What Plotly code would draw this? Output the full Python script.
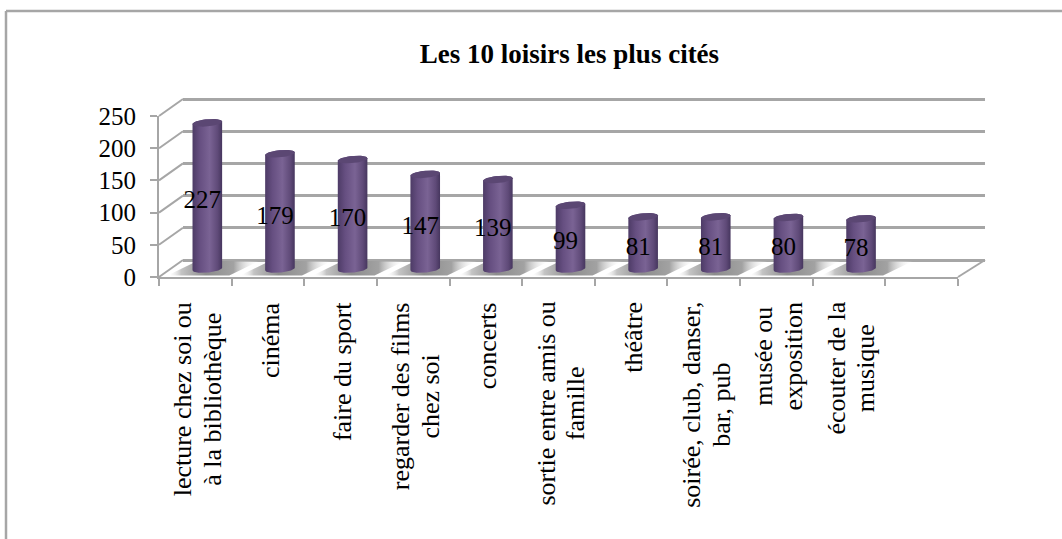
import math
import plotly.graph_objects as go

TITLE = "Les 10 loisirs les plus cités"
categories = [
    "lecture chez soi ou<br>à la bibliothèque",
    "cinéma",
    "faire du sport",
    "regarder des films<br>chez soi",
    "concerts",
    "sortie entre amis ou<br>famille",
    "théâtre",
    "soirée, club, danser,<br>bar, pub",
    "musée ou<br>exposition",
    "écouter de la<br>musique",
]
values = [227, 179, 170, 147, 139, 99, 81, 81, 80, 78]
y_ticks = [0, 50, 100, 150, 200, 250]

W, H = 1062, 539
FONT = "Liberation Serif"
GREY = "#a6a6a6"
SLOTS = 11  # the last slot of the Excel axis is empty

# pixel geometry of the fake 3D box
FRONT_X = (159, 958)
FRONT_Y = (116, 277)
BACK_X = (183, 985)
BACK_ZERO = 260
PX_PER_VAL = (FRONT_Y[1] - FRONT_Y[0]) / 250
PX_PER_SLOT = (FRONT_X[1] - FRONT_X[0]) / SLOTS
MID_LOW, MID_HIGH = -20, 260


def dom_x(a, b):
    return [a / W, b / W]


def dom_y(top, bottom):
    return [1 - bottom / H, 1 - top / H]


def mid_y_dom(zero_px):
    return dom_y(zero_px - MID_HIGH * PX_PER_VAL, zero_px - MID_LOW * PX_PER_VAL)


def ellipse(cx, cy, t0, t1, n=30):
    # slightly tilted ellipse, like the Excel perspective
    a = 14.8 / PX_PER_SLOT
    b = 3.6 / PX_PER_VAL
    tilt = 1.3 / PX_PER_VAL
    xs, ys = [], []
    for k in range(n + 1):
        t = t0 + (t1 - t0) * k / n
        xs.append(cx + a * math.cos(t))
        ys.append(cy + b * math.sin(t) + tilt * math.cos(t))
    return xs, ys


fig = go.Figure()

# empty traces so the front and back axes exist
fig.add_trace(go.Scatter(x=[], y=[], xaxis="x", yaxis="y", showlegend=False))
fig.add_trace(go.Scatter(x=[], y=[], xaxis="x2", yaxis="y2", showlegend=False))

# floor shadows
for i in range(len(values)):
    cx = i + 0.5
    lo, hi = -6.5 / PX_PER_VAL, 8.0 / PX_PER_VAL
    sx = [cx - 40 / PX_PER_SLOT, cx + 22 / PX_PER_SLOT, cx + 52 / PX_PER_SLOT, cx - 10 / PX_PER_SLOT]
    sy = [lo, lo, hi, hi]
    fig.add_trace(go.Scatter(
        x=sx + sx[:1], y=sy + sy[:1], xaxis="x3", yaxis="y3",
        mode="lines", line=dict(width=0), fill="toself",
        fillgradient=dict(type="horizontal", colorscale=[
            [0, "rgba(255,255,255,0)"], [0.15, "#c4c4c4"], [0.42, "#8c8c8c"],
            [0.72, "#a2a2a2"], [1, "rgba(255,255,255,0)"],
        ]),
        hoverinfo="skip", showlegend=False,
    ))

# cylinders
for i, v in enumerate(values):
    cx = i + 0.5
    bx, by = ellipse(cx, 0, math.pi, 2 * math.pi)
    tx, ty = ellipse(cx, v, 0, math.pi)
    fig.add_trace(go.Scatter(
        x=bx + tx + bx[:1], y=by + ty + by[:1], xaxis="x3", yaxis="y3",
        mode="lines", line=dict(width=0), fill="toself",
        fillgradient=dict(type="horizontal", colorscale=[
            [0, "#4d3b66"], [0.25, "#664f81"], [0.58, "#7a6394"], [0.85, "#5f4a78"], [1, "#46365e"],
        ]),
        name=str(v), showlegend=False,
    ))
    ex, ey = ellipse(cx, v, 0, 2 * math.pi, 50)
    fig.add_trace(go.Scatter(
        x=ex, y=ey, xaxis="x3", yaxis="y3",
        mode="lines", line=dict(width=0), fill="toself", fillcolor="#5b4773",
        hoverinfo="skip", showlegend=False,
    ))

# value labels
fig.add_trace(go.Scatter(
    x=[i + 0.5 for i in range(len(values))],
    y=[v / 2 for v in values],
    text=[str(v) for v in values],
    xaxis="x4", yaxis="y4",
    mode="text", textposition="middle center",
    textfont=dict(family=FONT, size=25, color="#000000"),
    cliponaxis=False, hoverinfo="skip", showlegend=False,
))

# box edges and chart frame, in page pixels
shapes = []


def page_line(x0, y0, x1, y1, width=2):
    shapes.append(dict(
        type="line", xref="paper", yref="paper",
        x0=x0 / W, y0=1 - y0 / H, x1=x1 / W, y1=1 - y1 / H,
        line=dict(color=GREY, width=width),
    ))


for t in y_ticks:
    yf = FRONT_Y[1] - t * PX_PER_VAL
    yb = BACK_ZERO - t * PX_PER_VAL
    page_line(FRONT_X[0], yf, BACK_X[0], yb)
page_line(FRONT_X[1], FRONT_Y[1], BACK_X[1], BACK_ZERO)
page_line(6, 539, 6, 11, 2.5)
page_line(6, 11, 1062, 11, 2.5)


# line spacing follows the annotation font (23 -> 30 px), the glyphs follow the span
def big(c):
    return "<br>".join(f"<span style='font-size:26px'>{p}</span>" for p in c.split("<br>"))


annotations = [
    dict(
        text=big(c), x=i + 0.5, xref="x", xshift=2, y=1 - 300 / H, yref="paper",
        xanchor="center", yanchor="top", textangle=-90, align="center",
        showarrow=False, font=dict(family=FONT, size=23, color="#000000"),
    )
    for i, c in enumerate(categories)
]

fig.update_layout(
    width=W, height=H, margin=dict(l=0, r=0, t=0, b=0),
    paper_bgcolor="white", plot_bgcolor="rgba(0,0,0,0)", showlegend=False,
    title=dict(
        text="<b>" + TITLE + "</b>", x=569.5 / W, xanchor="center",
        y=1 - 54 / H, yanchor="middle",
        font=dict(family=FONT, size=27, color="#000000"),
    ),
    shapes=shapes, annotations=annotations,
    xaxis=dict(
        domain=dom_x(*FRONT_X), range=[0, SLOTS], anchor="y", tick0=0, dtick=1,
        ticks="outside", ticklen=7, tickwidth=2, tickcolor=GREY, automargin=False,
        showline=True, linecolor=GREY, linewidth=2, showgrid=False,
        zeroline=False, showticklabels=False,
    ),
    yaxis=dict(
        domain=dom_y(*FRONT_Y), range=[0, 250], anchor="x", tickvals=y_ticks,
        ticks="outside", ticklen=7, tickwidth=2, tickcolor=GREY, automargin=False,
        showline=True, linecolor=GREY, linewidth=2, showgrid=False, zeroline=False,
        ticklabelstandoff=9,
        tickfont=dict(family=FONT, size=25, color="#000000"),
    ),
    xaxis2=dict(
        domain=dom_x(*BACK_X), range=[0, SLOTS], anchor="y2", automargin=False,
        showgrid=False, zeroline=False, showticklabels=False,
    ),
    yaxis2=dict(
        domain=mid_y_dom(BACK_ZERO), range=[MID_LOW, MID_HIGH], anchor="x2", tickvals=y_ticks,
        automargin=False, showgrid=True, gridcolor=GREY, gridwidth=2.5, zeroline=False,
        showticklabels=False,
    ),
    xaxis3=dict(
        domain=dom_x(171, 970), range=[0, SLOTS], anchor="y3", visible=False, automargin=False,
    ),
    yaxis3=dict(
        domain=mid_y_dom(269), range=[MID_LOW, MID_HIGH], anchor="x3", visible=False, automargin=False,
    ),
    xaxis4=dict(
        domain=dom_x(166, 965), range=[0, SLOTS], anchor="y4", visible=False, automargin=False,
    ),
    yaxis4=dict(
        domain=mid_y_dom(275), range=[MID_LOW, MID_HIGH], anchor="x4", visible=False, automargin=False,
    ),
)

fig.write_html(
    "out.html",
    config={"displayModeBar": False},
    post_script="document.body.style.margin='0';document.body.style.overflow='hidden';",
)
